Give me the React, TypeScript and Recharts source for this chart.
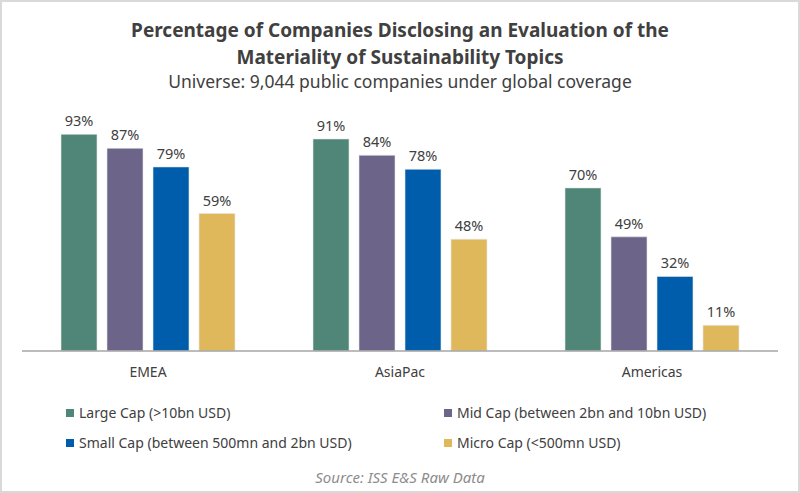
import React from 'react';
import { BarChart, Bar, XAxis, YAxis, LabelList } from 'recharts';

const REGIONS = ['EMEA', 'AsiaPac', 'Americas'];
const LARGE_CAP = [93, 91, 70];
const MID_CAP = [87, 84, 49];
const SMALL_CAP = [79, 78, 32];
const MICRO_CAP = [59, 48, 11];

const SERIES = [
  { key: 'large', name: 'Large Cap (>10bn USD)', color: '#4f8677', values: LARGE_CAP },
  { key: 'mid', name: 'Mid Cap (between 2bn and 10bn USD)', color: '#6c6489', values: MID_CAP },
  { key: 'small', name: 'Small Cap (between 500mn and 2bn USD)', color: '#005dab', values: SMALL_CAP },
  { key: 'micro', name: 'Micro Cap (<500mn USD)', color: '#dfb85c', values: MICRO_CAP },
];

const FONT = '"Noto Sans", "Open Sans", sans-serif';
const TEXT = '#404040';

const data = REGIONS.map((region, i) => {
  const row: any = { region };
  SERIES.forEach((s) => {
    row[s.key] = s.values[i];
  });
  return row;
});

export default function App() {
  return (
    <div
      style={{
        position: 'absolute',
        left: 0,
        top: 0,
        width: 800,
        height: 493,
        boxSizing: 'border-box',
        border: '2px solid #d9d9d9',
        background: '#fff',
        fontFamily: FONT,
        color: TEXT,
      }}
    >
      {/* titulo */}
      <div style={{ position: 'absolute', left: 0, top: 15, width: 796, textAlign: 'center' }}>
        <div style={{ fontSize: 19, fontWeight: 700, lineHeight: '27px' }}>
          Percentage of Companies Disclosing an Evaluation of the
        </div>
        <div style={{ fontSize: 19, fontWeight: 700, lineHeight: '27px' }}>
          Materiality of Sustainability Topics
        </div>
        <div style={{ fontSize: 17.5, lineHeight: '20px' }}>
          Universe: 9,044 public companies under global coverage
        </div>
      </div>

      <div style={{ position: 'absolute', left: -2, top: -2 }}>
        <BarChart
          width={800}
          height={493}
          data={data}
          margin={{ top: 118, right: 22, bottom: 112, left: 22 }}
          barSize={36}
          barGap={10}
        >
          <XAxis
            dataKey="region"
            axisLine={{ stroke: '#a6a6a6', strokeWidth: 1.5 }}
            tickLine={false}
            tickMargin={10}
            height={30}
            tick={{ fill: TEXT, fontSize: 14, fontFamily: FONT }}
          />
          <YAxis hide domain={[0, 100]} />
          {SERIES.map((s) => (
            <Bar
              key={s.key}
              dataKey={s.key}
              name={s.name}
              fill={s.color}
              stroke="#e8e8e8"
              strokeWidth={0.6}
              isAnimationActive={false}
            >
              <LabelList
                dataKey={s.key}
                position="top"
                offset={8}
                formatter={(v: any) => `${v}%`}
                style={{ fill: TEXT, fontSize: 14.5, fontFamily: FONT }}
              />
            </Bar>
          ))}
        </BarChart>
      </div>

      {/* leyenda */}
      {SERIES.map((s, i) => (
        <div
          key={s.key}
          style={{
            position: 'absolute',
            left: i % 2 === 0 ? 64 : 442,
            top: i < 2 ? 401 : 431,
            display: 'flex',
            alignItems: 'center',
            fontSize: 14,
            lineHeight: '20px',
            whiteSpace: 'nowrap',
          }}
        >
          <span style={{ width: 8, height: 8, background: s.color, marginRight: 5, display: 'inline-block' }} />
          <span>{s.name}</span>
        </div>
      ))}

      <div
        style={{
          position: 'absolute',
          left: 0,
          top: 465,
          width: 796,
          textAlign: 'center',
          fontSize: 15,
          fontStyle: 'italic',
          color: '#8c8c8c',
        }}
      >
        Source: ISS E&amp;S Raw Data
      </div>
    </div>
  );
}
